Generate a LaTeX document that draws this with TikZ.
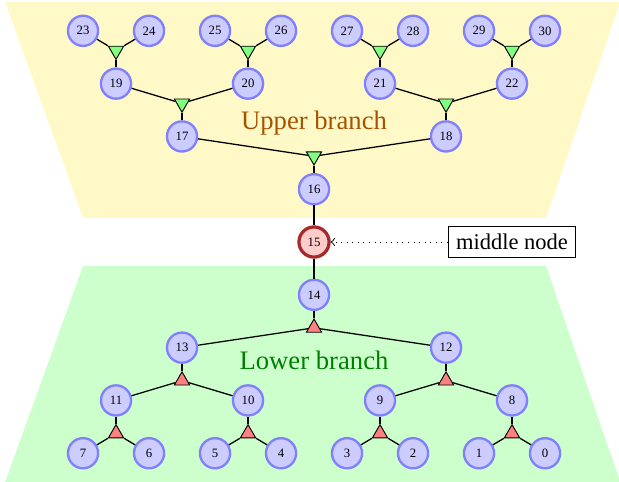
\documentclass[tikz,border=0pt]{standalone}
\usepackage{fontspec}
\setmainfont{Liberation Serif}
\usetikzlibrary{shapes.geometric}
\definecolor{upperbg}{RGB}{255,249,199}
\definecolor{lowerbg}{RGB}{204,255,204}
\definecolor{midred}{RGB}{165,42,42}
\definecolor{uppertext}{RGB}{166,83,0}
\begin{document}
\begin{tikzpicture}[
    vert/.style = {circle, draw=blue!50, fill=blue!20, line width=1pt,
                minimum size=13pt, inner sep=0pt,
                font=\fontsize{5.5}{6}\selectfont},
    tri/.style = {regular polygon, regular polygon sides=3, draw=black,
                fill=#1, minimum size=7.6pt, inner sep=0pt},
    utri/.style = {tri=green!50, shape border rotate=180},  % points down
    ltri/.style = {tri=red!50},                             % points up
    edge/.style = {black, line width=0.55pt},
    branch/.style = {font=\fontsize{11.5}{14}\selectfont, text=#1}
                    ]
        \useasboundingbox (-4.758,-3.621) rectangle (4.621,3.667);
        % the two branches
        \fill[upperbg] (-3.5,0.364) -- (3.515,0.364) -- (4.64,3.636) -- (-4.68,3.636) -- cycle;
        \fill[lowerbg] (-3.5,-0.364) -- (3.515,-0.364) -- (4.64,-3.636) -- (-4.68,-3.636) -- cycle;
        \node[branch=uppertext] (up) at (0,1.806) {Upper branch};
        \node[branch=green!50!black] (low) at (0,-1.79) {Lower branch};
        % vertices
        \foreach \x/\y/\v in {-3.5/3.2/23, -2.5/3.2/24, -1.5/3.2/25, -0.5/3.2/26,
                              0.5/3.2/27, 1.5/3.2/28, 2.5/3.2/29, 3.5/3.2/30,
                              -3/2.4/19, -1/2.4/20, 1/2.4/21, 3/2.4/22,
                              -2/1.6/17, 2/1.6/18, 0/0.8/16,
                              0/-0.8/14, -2/-1.6/13, 2/-1.6/12,
                              -3/-2.4/11, -1/-2.4/10, 1/-2.4/9, 3/-2.4/8,
                              -3.5/-3.2/7, -2.5/-3.2/6, -1.5/-3.2/5, -0.5/-3.2/4,
                              0.5/-3.2/3, 1.5/-3.2/2, 2.5/-3.2/1, 3.5/-3.2/0}
            \node[vert] (n\v) at (\x,\y) {\v};
        \node[vert, draw=midred, fill=red!20, line width=1.4pt] (n15) at (0,0) {15};
        % junctions
        \foreach \x/\y/\t in {-3/2.9/19, -1/2.9/20, 1/2.9/21, 3/2.9/22,
                              -2/2.1/17, 2/2.1/18, 0/1.3/16}
            \node[utri] (t\t) at (\x,\y) {};
        \foreach \x/\y/\t in {-3/-2.9/11, -1/-2.9/10, 1/-2.9/9, 3/-2.9/8,
                              -2/-2.1/13, 2/-2.1/12, 0/-1.3/14}
            \node[ltri] (t\t) at (\x,\y) {};
        % edges
        \foreach \a/\b/\c in {23/24/19, 25/26/20, 27/28/21, 29/30/22,
                              19/20/17, 21/22/18, 17/18/16,
                              7/6/11, 5/4/10, 3/2/9, 1/0/8,
                              11/10/13, 9/8/12, 13/12/14}
        {
            \draw [edge] (n\a) -- (t\c);
            \draw [edge] (n\b) -- (t\c);
            \draw [edge] (t\c) -- (n\c);
        }
        \draw [edge] (n16) -- (n15);
        \draw [edge] (n15) -- (n14);
        \node[draw, fill=white, font=\fontsize{9.7}{12}\selectfont] (mid) at (3.0,0) {middle node};
        \draw [->, dotted] (mid) -- (n15);
    \end{tikzpicture}
\end{document}
